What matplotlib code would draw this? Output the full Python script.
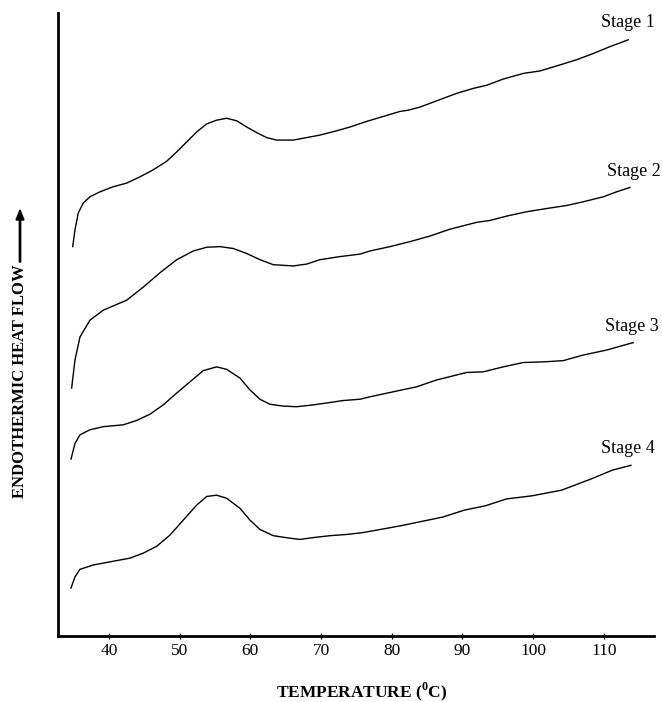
import numpy as np
import matplotlib
matplotlib.use('Agg')
import matplotlib.pyplot as plt

# DSC traces (temperature in deg C, heat flow in arbitrary units, 0-100 axis)
stage1_t = [34.87, 35.19, 35.66, 36.36, 37.31, 38.73, 40.57, 42.50, 44.38, 46.22, 48.16, 49.58,
            50.99, 52.40, 53.82, 55.23, 56.65, 58.06, 59.48, 60.89, 62.31, 63.72, 66.07, 67.48,
            69.84, 72.21, 74.09, 76.45, 78.80, 81.16, 82.33, 83.99, 86.35, 89.18, 91.53, 93.42,
            95.77, 98.60, 100.96, 103.32, 106.15, 108.50, 110.86, 113.45]
stage1_q = [62.5, 65.2, 67.9, 69.5, 70.5, 71.3, 72.1, 72.7, 73.7, 74.8, 76.2, 77.7,
            79.3, 80.9, 82.2, 82.8, 83.1, 82.7, 81.7, 80.8, 80.0, 79.6, 79.6, 79.9,
            80.4, 81.1, 81.7, 82.6, 83.4, 84.2, 84.4, 84.9, 85.9, 87.1, 87.9, 88.4,
            89.4, 90.3, 90.7, 91.5, 92.5, 93.5, 94.6, 95.7]

stage2_t = [34.72, 35.19, 35.90, 37.31, 39.19, 42.50, 44.85, 47.21, 49.58, 51.92, 53.82, 55.70,
            57.58, 59.48, 61.36, 63.24, 66.07, 67.96, 69.84, 72.67, 75.50, 76.92, 79.75, 82.57,
            85.40, 88.23, 92.01, 93.89, 96.25, 99.08, 102.38, 104.74, 107.09, 109.92, 111.81, 113.69]
stage2_q = [39.8, 44.3, 48.0, 50.7, 52.3, 53.9, 56.0, 58.3, 60.4, 61.8, 62.4, 62.5,
            62.2, 61.4, 60.4, 59.6, 59.4, 59.7, 60.4, 60.9, 61.3, 61.8, 62.5, 63.3,
            64.2, 65.3, 66.4, 66.7, 67.4, 68.1, 68.7, 69.1, 69.7, 70.5, 71.3, 72.0]

stage3_t = [34.63, 35.19, 35.90, 37.31, 39.19, 42.02, 43.92, 45.80, 47.68, 49.58, 51.46, 53.34,
            55.23, 56.65, 58.53, 59.94, 61.36, 62.77, 64.65, 66.55, 68.90, 70.79, 73.14, 75.50,
            76.92, 80.21, 83.52, 86.35, 90.59, 92.94, 95.77, 98.60, 101.43, 104.26, 107.09,
            110.40, 114.16]
stage3_q = [28.4, 30.9, 32.3, 33.1, 33.6, 33.9, 34.6, 35.6, 37.1, 39.0, 40.8, 42.6,
            43.2, 42.8, 41.4, 39.5, 38.0, 37.2, 36.9, 36.8, 37.1, 37.4, 37.8, 38.0,
            38.4, 39.2, 40.0, 41.1, 42.3, 42.4, 43.2, 43.9, 44.0, 44.2, 45.1,
            45.9, 47.1]

stage4_t = [34.63, 35.19, 35.90, 37.78, 40.14, 42.97, 44.85, 46.75, 48.63, 50.51, 52.40, 53.82,
            55.23, 56.65, 58.53, 59.94, 61.36, 63.24, 65.60, 67.02, 68.90, 71.26, 73.62, 75.93,
            81.30, 87.24, 90.25, 93.24, 96.22, 99.82, 103.99, 108.18, 111.15, 113.83]
stage4_q = [7.7, 9.5, 10.7, 11.4, 11.9, 12.5, 13.3, 14.4, 16.2, 18.6, 21.0, 22.4,
            22.6, 22.1, 20.5, 18.6, 17.1, 16.1, 15.7, 15.5, 15.8, 16.1, 16.3, 16.6,
            17.7, 19.1, 20.2, 20.9, 22.0, 22.5, 23.4, 25.2, 26.6, 27.4]

stage_names = ['Stage 1', 'Stage 2', 'Stage 3', 'Stage 4']
label_t = [109.66, 110.38, 110.15, 109.66]
label_q = [98.4, 74.5, 49.6, 30.1]

xticks = [40, 50, 60, 70, 80, 90, 100, 110]

plt.rcParams['font.family'] = ['Liberation Serif', 'DejaVu Serif']
plt.rcParams['mathtext.fontset'] = 'custom'
plt.rcParams['mathtext.rm'] = 'Liberation Serif:bold'
plt.rcParams['mathtext.bf'] = 'Liberation Serif:bold'

W, H = 662, 702
fig = plt.figure(figsize=(W / 100, H / 100), dpi=100)
ax = fig.add_axes([58 / W, 1 - 636 / H, (654 - 58) / W, (636 - 13) / H])

for t, q in [(stage1_t, stage1_q), (stage2_t, stage2_q), (stage3_t, stage3_q), (stage4_t, stage4_q)]:
    ax.plot(t, q, color='black', lw=1.0, solid_joinstyle='round')

for name, t, q in zip(stage_names, label_t, label_q):
    ax.text(t, q, name, fontsize=13, ha='left', va='center', clip_on=False)

ax.set_xlim(32.79, 117.09)
ax.set_ylim(0, 100)
ax.set_xticks(xticks)
ax.set_yticks([])
ax.tick_params(axis='x', direction='inout', length=5, width=0.9, pad=2.5, labelsize=12.5)
for side in ['top', 'right']:
    ax.spines[side].set_visible(False)
for side in ['left', 'bottom']:
    ax.spines[side].set_linewidth(2.0)

# axis titles (figure coords so they sit where the scan has them)
fig.text(362 / W, 1 - 692 / H, r'TEMPERATURE ($^{\mathbf{0}}$C)', fontsize=12.5,
         fontweight='bold', ha='center', va='center')
fig.text(20 / W, 1 - 381 / H, 'ENDOTHERMIC HEAT FLOW', fontsize=12, fontweight='bold',
         rotation=90, ha='center', va='center')
fig.patches.append(matplotlib.patches.FancyArrow(20 / W, 1 - 262 / H, 0, 52 / H,
                   width=1.4 / H, head_width=8 / W, head_length=10 / H,
                   length_includes_head=True, color='black', transform=fig.transFigure))

fig.savefig('out.png', dpi=100)
